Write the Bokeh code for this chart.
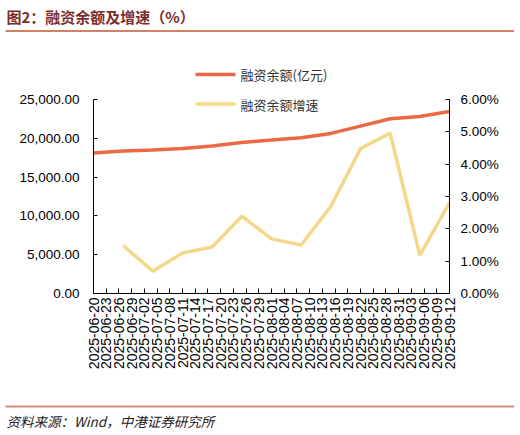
import datetime as dt
from bokeh.plotting import figure
from bokeh.layouts import column
from bokeh.core.properties import value
from bokeh.models import (Range1d, LinearAxis, FixedTicker, DatetimeTickFormatter,
                          NumeralTickFormatter, Label, BoxAnnotation)
from bokeh.embed import file_html
from bokeh.resources import INLINE

dates = ["2025-06-20", "2025-06-27", "2025-07-04", "2025-07-11", "2025-07-18",
         "2025-07-25", "2025-08-01", "2025-08-08", "2025-08-15", "2025-08-22",
         "2025-08-29", "2025-09-05", "2025-09-12"]
balance = [18100, 18350, 18480, 18700, 19000, 19470, 19770, 20080, 20630,
           21570, 22520, 22820, 23460]
growth_dates = dates[1:]
growth = [0.0148, 0.0069, 0.0125, 0.0144, 0.0239, 0.0169, 0.0150, 0.0269,
          0.0448, 0.0496, 0.0118, 0.0281]
left_ticks = [0, 5000, 10000, 15000, 20000, 25000]
right_ticks = [0.0, 0.01, 0.02, 0.03, 0.04, 0.05, 0.06]
title_text = "图2：融资余额及增速（%）"
source_text = "资料来源：Wind，中港证券研究所"
legend_labels = ["融资余额(亿元)", "融资余额增速"]

def d(s):
    return dt.datetime.strptime(s, "%Y-%m-%d")

xd = [d(s) for s in dates]
xg = [d(s) for s in growth_dates]
start, end = xd[0], xd[-1]
tick_ms = []
cur = start
while cur <= end:
    tick_ms.append((cur - dt.datetime(1970, 1, 1)).total_seconds() * 1000)
    cur += dt.timedelta(days=3)

W = 514
HH = 85          # header height
MH = 310         # main figure height
FH = 36          # footer height
CJK = "Noto Sans CJK SC"
LAB = "Liberation Sans"
red = "#EB6A45"
yel = "#F2D98A"
axc = "#000000"

def no_align(f):
    if "frame_align" in f.properties():
        f.frame_align = False

def blank(h):
    f = figure(width=W, height=h, x_range=Range1d(0, W), y_range=Range1d(h, 0),
               output_backend="svg", toolbar_location=None,
               x_axis_location=None, y_axis_location=None, min_border=0)
    f.outline_line_color = None
    f.xgrid.visible = False
    f.ygrid.visible = False
    no_align(f)
    return f

# ---- header: title, rule, first legend item
hdr = blank(HH)
hdr.text(x=[6], y=[16], text=[title_text], text_font=value(CJK), text_font_style="bold",
         text_font_size="15px", text_color="#7B2C2C", text_baseline="middle",
         text_align="left")
hdr.line(x=[5, W], y=[30.5, 30.5], line_color="#C4572F", line_width=1.5)
hdr.line(x=[195, 235], y=[74, 74], line_color=red, line_width=3.5)
hdr.text(x=[240], y=[74], text=[legend_labels[0]], text_font=value(CJK),
         text_font_size="13px", text_color="#333333", text_baseline="middle",
         text_align="left")

# ---- main chart
p = figure(width=W, height=MH, x_axis_type="datetime", output_backend="svg",
           toolbar_location=None, x_range=Range1d(start, end),
           y_range=Range1d(0, 25000),
           min_border_left=93, min_border_right=W - 449, min_border_top=99 - HH,
           min_border_bottom=HH + MH - 293, y_axis_location=None)
p.outline_line_color = None
p.xgrid.visible = False
p.ygrid.visible = False
p.extra_y_ranges = {"pct": Range1d(0, 0.06)}
no_align(p)

xa = p.xaxis[0]
xa.ticker = FixedTicker(ticks=tick_ms)
fmt = "%Y-%m-%d"
xa.formatter = DatetimeTickFormatter(milliseconds=fmt, seconds=fmt, minsec=fmt, minutes=fmt,
                                     hourmin=fmt, hours=fmt, days=fmt, months=fmt, years=fmt)
xa.major_label_orientation = 3.14159265 / 2
xa.major_label_text_font = LAB
xa.major_label_text_font_size = "14px"
xa.major_label_text_color = "#000000"
xa.major_label_standoff = 4
xa.major_tick_in = 5
xa.major_tick_out = 0
xa.minor_tick_line_color = None
xa.axis_line_color = axc
xa.major_tick_line_color = axc

ly = LinearAxis(ticker=FixedTicker(ticks=left_ticks),
                formatter=NumeralTickFormatter(format="0,0.00"))
ry = LinearAxis(y_range_name="pct", ticker=FixedTicker(ticks=right_ticks),
                formatter=NumeralTickFormatter(format="0.00%"))
for a in (ly, ry):
    a.major_label_text_font = LAB
    a.major_label_text_font_size = "13.5px"
    a.major_label_text_color = "#000000"
    a.major_tick_in = 4
    a.major_tick_out = 0
    a.minor_tick_line_color = None
    a.axis_line_color = axc
    a.major_tick_line_color = axc
ly.major_label_standoff = 14
ry.major_label_standoff = 11
p.add_layout(ly, "left")
p.add_layout(ry, "right")

p.line(xd, balance, line_color=red, line_width=3.5)
p.line(xg, growth, line_color=yel, line_width=3.5, y_range_name="pct")

# second legend item (inside the plot frame)
ly2 = 103.5 - HH
p.add_layout(BoxAnnotation(left=195, right=235, top=ly2 - 1.75, bottom=ly2 + 1.75,
                           left_units="canvas", right_units="canvas",
                           top_units="canvas", bottom_units="canvas",
                           fill_color=yel, fill_alpha=1, line_color=None))
p.add_layout(Label(x=240, y=ly2, x_units="canvas", y_units="canvas",
                   text=legend_labels[1], text_font=CJK, text_font_size="13px",
                   text_color="#333333", text_baseline="middle", text_align="left"))

# ---- footer: rule and source
ftr = blank(FH)
ftr.line(x=[5, W], y=[11, 11], line_color="#D88C78", line_width=2)
ftr.text(x=[6], y=[25], text=[source_text], text_font=value(CJK), text_font_style="italic",
         text_font_size="13.5px", text_color="#222222", text_baseline="middle",
         text_align="left")

layout = column(hdr, p, ftr, spacing=0)
open("out.html", "w").write(file_html(layout, INLINE))
